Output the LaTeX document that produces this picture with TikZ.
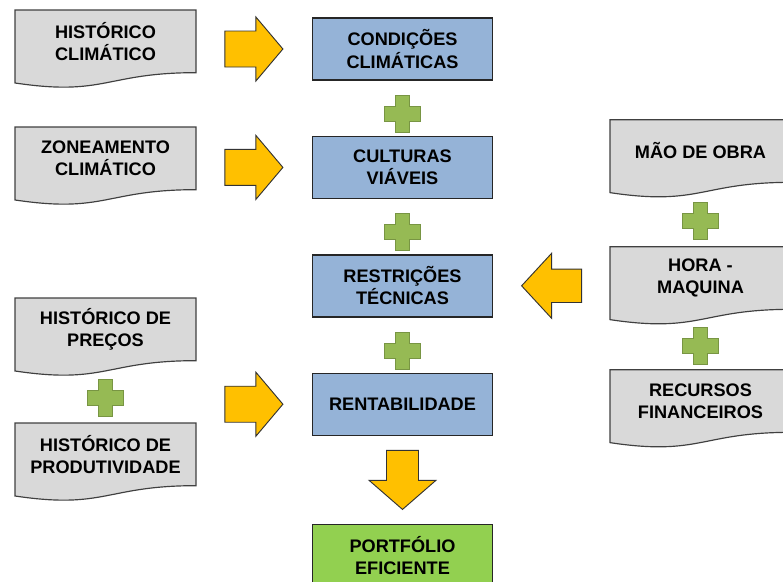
\documentclass[tikz,border=0pt]{standalone}
\usepackage{fontspec}
\setmainfont{Liberation Sans}
\usetikzlibrary{arrows.meta, positioning, calc, backgrounds}
\definecolor{boxcolor}{RGB}{149,179,215}
\definecolor{goalcolor}{RGB}{146,208,80}
\definecolor{doccolor}{RGB}{217,217,217}
\definecolor{arrowcolor}{RGB}{255,192,0}
\definecolor{pluscolor}{RGB}{150,186,84}

% wavy document outline behind a doc node
\newcommand{\docwave}[1]{%
  \begin{scope}[on background layer]
    \filldraw[docline] (#1.north west) -- (#1.north east) -- (#1.south east)
      .. controls (#1.south) and ($(#1.north)!1.381!(#1.south)$) ..
      ($(#1.north west)!1.1645!(#1.south west)$) -- cycle;
  \end{scope}}

\begin{document}
\begin{tikzpicture}[
    blk/.style={
        draw=black!85, line width=1.2pt,
        minimum width=5.4cm, minimum height=1.86cm,
        align=center, inner sep=2pt,
        font=\bfseries\fontsize{15.5}{19}\selectfont,
        fill=#1
    },
    doc/.style={
        minimum width=5.43cm, minimum height=1.88cm,
        outer sep=0pt, align=center, inner sep=2pt,
        font=\bfseries\fontsize{15.5}{19}\selectfont
    },
    docline/.style={draw=black!75, line width=1pt, fill=doccolor},
    % length, head half width, shaft half width, head length
    pics/fat/.style n args={4}{code={
        \filldraw[fill=arrowcolor, draw=black!80, line width=0.8pt, line join=miter]
        (-#1/2,#3) -- (#1/2-#4,#3) -- (#1/2-#4,#2) -- (#1/2,0)
        -- (#1/2-#4,-#2) -- (#1/2-#4,-#3) -- (-#1/2,-#3) -- cycle;
    }},
    pics/plussign/.style={code={
        \filldraw[fill=pluscolor, draw=pluscolor!80!black, line width=0.6pt]
        (-0.22,0.55) -- (0.22,0.55) -- (0.22,0.22) -- (0.55,0.22)
        -- (0.55,-0.22) -- (0.22,-0.22) -- (0.22,-0.55) -- (-0.22,-0.55)
        -- (-0.22,-0.22) -- (-0.55,-0.22) -- (-0.55,0.22) -- (-0.22,0.22) -- cycle;
    }}
]
\useasboundingbox (0,0) rectangle (23.49,-17.46);

% =========================
% CENTRE: MAIN CHAIN
% =========================
\node[blk=boxcolor] (COND) at (12.075,-1.47) {CONDIÇÕES\\CLIMÁTICAS};
\node[blk=boxcolor, below=1.65cm of COND] (CULT) {CULTURAS\\VIÁVEIS};
\node[blk=boxcolor, below=1.65cm of CULT] (RESTR) {RESTRIÇÕES\\TÉCNICAS};
\node[blk=boxcolor, below=1.65cm of RESTR] (RENT) {RENTABILIDADE};
\node[blk=goalcolor, below=2.64cm of RENT] (PORT) {PORTFÓLIO\\EFICIENTE};

% =========================
% LEFT: HISTORICAL DATA
% =========================
\node[doc] (HCLIM) at (3.165,-1.24) {HISTÓRICO\\CLIMÁTICO};
\node[doc, below=1.63cm of HCLIM] (ZONE) {ZONEAMENTO\\CLIMÁTICO};
\node[doc, below=3.25cm of ZONE] (HPREC) {HISTÓRICO DE\\PREÇOS};
\node[doc, below=1.87cm of HPREC] (HPROD) {HISTÓRICO DE\\PRODUTIVIDADE};

% =========================
% RIGHT: RESOURCES
% =========================
\node[doc] (MAO) at (21.015,-4.53) {MÃO DE OBRA};
\node[doc, below=1.93cm of MAO] (HORA) {HORA -\\MAQUINA};
\node[doc, below=1.81cm of HORA] (RECUR) {RECURSOS\\FINANCEIROS};

\foreach \d in {HCLIM,ZONE,HPREC,HPROD,MAO,HORA,RECUR}
    \docwave{\d};

% =========================
% BLOCK ARROWS
% =========================
\coordinate (midL) at ($(HCLIM.east)!0.5!(COND.west)$);
\coordinate (midR) at ($(RESTR.east)!0.5!(HORA.west)$);
\coordinate (midD) at ($(RENT.south)!0.5!(PORT.north)$);

\foreach \n in {COND, CULT, RENT}
    \pic at (midL |- \n) {fat={1.74}{0.96}{0.54}{0.81}};
\pic[rotate=180] at (midR |- RESTR) {fat={1.8}{0.975}{0.5}{0.9}};
\pic[rotate=270] at (midD) {fat={1.77}{1.0}{0.48}{0.87}};

% =========================
% PLUS SIGNS
% =========================
\foreach \a/\b in {COND/CULT, CULT/RESTR, RESTR/RENT, HPREC/HPROD, MAO/HORA, HORA/RECUR}
    \pic at ($(\a.south)!0.6!(\b.north)$) {plussign};

\end{tikzpicture}
\end{document}
